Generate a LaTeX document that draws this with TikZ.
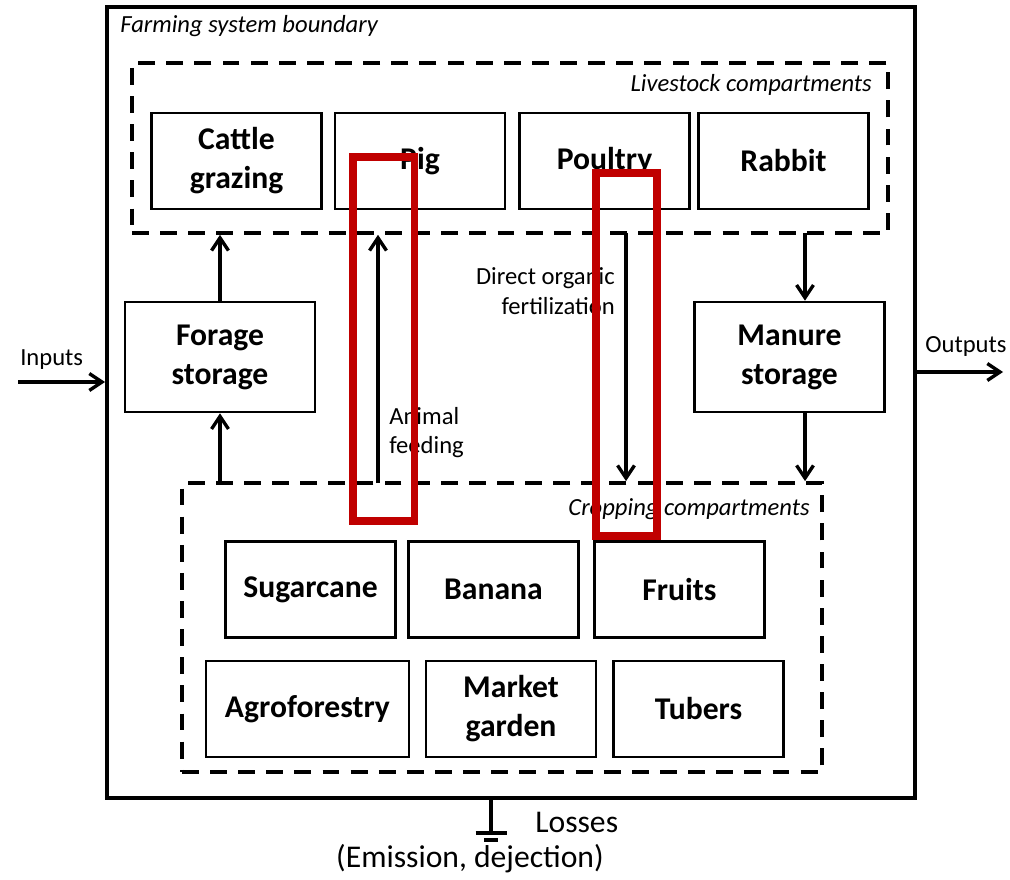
\documentclass[tikz,border=0pt]{standalone}
\usepackage{fontspec}
\setmainfont{Carlito}
\usetikzlibrary{arrows.meta}

\begin{document}
\begin{tikzpicture}[x=0.025cm,y=-0.025cm,
    lbl/.style={inner sep=0pt,font=\fontsize{17.5}{21}\selectfont},
    compart/.style={draw,line width=2.6pt,dash pattern=on 12pt off 8pt},
    flow/.style={draw,line width=2.4pt,-{Straight Barb[length=9pt,width=12pt]}}]

        \useasboundingbox (0,0) rectangle (1010,879);

        % system boundary and the two compartments
        \node[draw,line width=2.6pt,minimum width=20.2cm,minimum height=19.775cm] (farm) at (511,402.5) {};
        \node[compart,minimum width=18.9cm,minimum height=4.25cm] (live) at (510,148) {};
        \node[compart,minimum width=16cm,minimum height=7.225cm] (crop) at (502,627.5) {};

        \begin{scope}[every node/.style={lbl,font=\fontsize{17.5}{21}\selectfont\itshape}]
          \node[anchor=base west] (farmlbl) at (120,33)  {Farming system boundary};
          \node[anchor=base east] (livelbl) at (872,92)  {Livestock compartments};
          \node[anchor=base east] (croplbl) at (810,515) {Cropping compartments};
        \end{scope}

        \begin{scope}[every node/.style={draw,line width=1.8pt,minimum width=4.25cm,minimum height=2.4cm,
                      align=center,font=\fontsize{22.5}{27.7}\selectfont\bfseries}]
          \node (cattle)  at (236.5,161) {Cattle\\grazing};
          \node (pig)     at (420,161)   {Pig};
          \node (poultry) at (604.5,161) {Poultry};
          \node (rabbit)  at (783.5,161) {Rabbit};
          \node[minimum width=4.75cm,minimum height=2.75cm] (forage) at (220,357)   {Forage\\storage};
          \node[minimum width=4.75cm,minimum height=2.75cm] (manure) at (789.5,357) {Manure\\storage};
          \node (sugar)  at (310.5,589.5) {Sugarcane};
          \node (banana) at (493.5,589.5) {Banana};
          \node (fruits) at (679.5,589.5) {Fruits};
          \node[minimum width=5.075cm] (agro) at (307.5,709) {Agroforestry};
          \node (market) at (511,709)   {Market\\garden};
          \node (tubers) at (698.5,709) {Tubers};
        \end{scope}

        \coordinate (in)   at (18,382);
        \coordinate (out)  at (1003,372);
        \coordinate (feed) at (378,483);
        \coordinate (fert) at (626,233);
        \coordinate (dung) at (805,233);
        \coordinate (gnd)  at (491,833);

        \path[flow] (in) -- (in -| farm.west);
        \path[flow] (out -| farm.east) -- (out);
        \path[flow] (forage.north) -- (forage.north |- live.south);
        \path[flow] (crop.north -| forage.south) -- (forage.south);
        \path[flow] (feed) -- (feed |- live.south);
        \path[flow] (fert) -- (fert |- crop.north);
        \path[flow] (dung) -- (dung |- manure.north);
        \path[flow] (dung |- manure.south) -- (dung |- crop.north);

        % losses
        \draw[line width=2.2pt] (gnd |- farm.south) -- (gnd);
        \draw[line width=2.2pt] (gnd) ++(-15.5,0) -- ++(31,0);
        \draw[line width=2.2pt] (gnd) ++(-7,7) -- ++(14,0);

        \begin{scope}[every node/.style={lbl}]
          \node[anchor=base west] (inlbl)  at (20,365)  {Inputs};
          \node[anchor=base west] (outlbl) at (925,352) {Outputs};
          \node[anchor=east,align=right] (fertlbl) at (615,291) {Direct organic\\fertilization};
          \node[anchor=west,align=left]  (feedlbl) at (389,432.5) {Animal\\feeding};
          \node[anchor=base west,font=\fontsize{22.5}{27}\selectfont] (losslbl) at (535,832) {Losses};
          \node[anchor=base,font=\fontsize{22.5}{27}\selectfont] (emitlbl) at (470,867) {(Emission, dejection)};
        \end{scope}

        % highlight
        \begin{scope}[draw={rgb,255:red,192;green,0;blue,0},line width=5pt]
          \draw (353,157) rectangle (414.5,521);
          \draw (596,173) rectangle (657,536);
        \end{scope}

      \end{tikzpicture}
\end{document}
